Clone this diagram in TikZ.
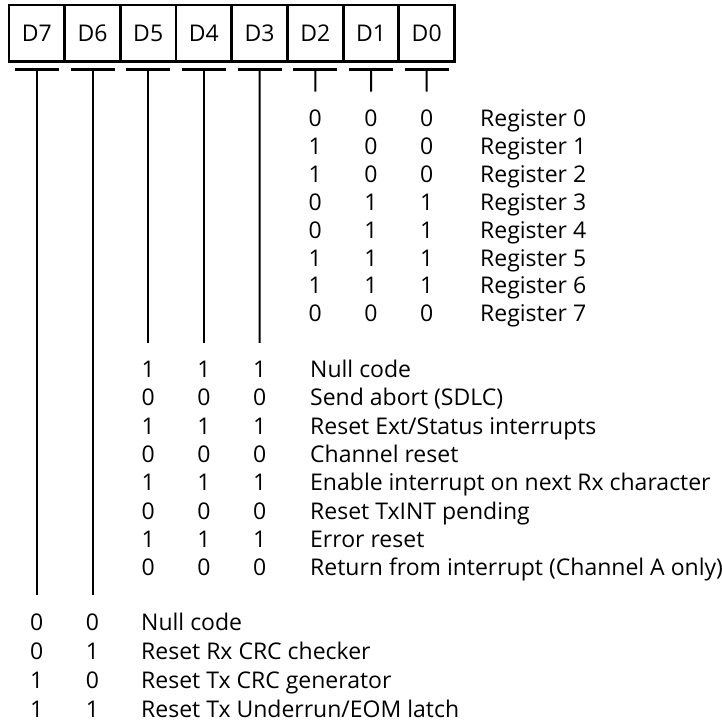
\documentclass[tikz,border=0pt]{standalone}
\usepackage{fontspec}
\setmainfont{Open Sans}
\usetikzlibrary{calc}

\begin{document}
\begin{tikzpicture}[x = 1pt, y = -1pt, every node/.style = {inner sep = 0pt, font = \fontsize{23}{27}\selectfont},
	bitcell/.style = {draw = black, line width = 2.8pt, minimum width = 55.7pt, minimum height = 56.3pt},
	bitbar/.style = {line width = 2.4pt},
	bitstem/.style = {line width = 2pt, shorten >= 18pt}]

	\useasboundingbox (0,0) rectangle (722,725);

	\foreach \k [count = \n from 0] in {7,...,0}
	{
		\node[bitcell] (D\k) at ({36.8 + 55.7*\n}, 33.2) {D\k};
		\coordinate (B\k) at ($(D\k.center) + (0,36.3)$);
		\draw[bitbar] ($(B\k) + (-22,0)$) -- ($(B\k) + (22,0)$);
	}

	% D2 D1 D0
	\foreach \a/\b/\c/\txt [count = \i from 0] in {0/0/0/Register 0, 1/0/0/Register 1, 1/0/0/Register 2, 0/1/1/Register 3, 0/1/1/Register 4, 1/1/1/Register 5, 1/1/1/Register 6, 0/0/0/Register 7}
	{
		\node[anchor = base] (reg\i-2) at (315.3, {126.5 + 27.9*\i}) {\a};
		\node[anchor = base] (reg\i-1) at (371.0, {126.5 + 27.9*\i}) {\b};
		\node[anchor = base] (reg\i-0) at (426.7, {126.5 + 27.9*\i}) {\c};
		\node[anchor = base west] (reg\i) at (480, {126.5 + 27.9*\i}) {\txt};
	}

	% D5 D4 D3
	\foreach \a/\b/\c/\txt [count = \i from 0] in {1/1/1/Null code, 0/0/0/Send abort (SDLC), 1/1/1/{Reset Ext/Status interrupts}, 0/0/0/Channel reset, 1/1/1/Enable interrupt on next Rx character, 0/0/0/Reset TxINT pending, 1/1/1/Error reset, 0/0/0/Return from interrupt (Channel A only)}
	{
		\node[anchor = base] (cmd\i-5) at (148.2, {377.5 + 28.3*\i}) {\a};
		\node[anchor = base] (cmd\i-4) at (203.9, {377.5 + 28.3*\i}) {\b};
		\node[anchor = base] (cmd\i-3) at (259.6, {377.5 + 28.3*\i}) {\c};
		\node[anchor = base west] (cmd\i) at (310, {377.5 + 28.3*\i}) {\txt};
	}

	% D7 D6
	\foreach \a/\b/\txt [count = \i from 0] in {0/0/Null code, 0/1/Reset Rx CRC checker, 1/0/Reset Tx CRC generator, 1/1/{Reset Tx Underrun/EOM latch}}
	{
		\node[anchor = base] (crc\i-7) at (36.8, {630 + 29*\i}) {\a};
		\node[anchor = base] (crc\i-6) at (92.5, {630 + 29*\i}) {\b};
		\node[anchor = base west] (crc\i) at (141, {630 + 29*\i}) {\txt};
	}

	\foreach \from/\to in {B7/crc0-7, B6/crc0-6, B5/cmd0-5, B4/cmd0-4, B3/cmd0-3, B2/reg0-2, B1/reg0-1, B0/reg0-0}
		\draw[bitstem] (\from) -- (\to);
\end{tikzpicture}
\end{document}
